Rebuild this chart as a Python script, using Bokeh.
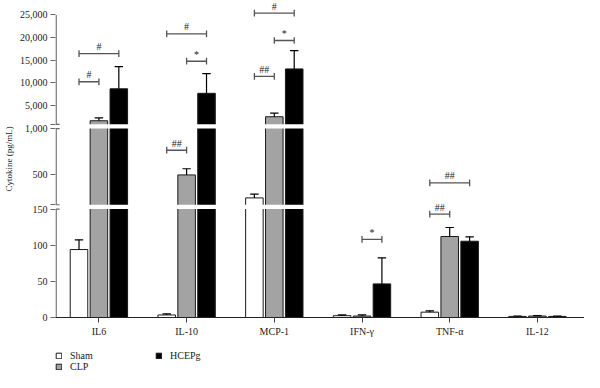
import numpy as np
from bokeh.plotting import figure
from bokeh.layouts import column
from bokeh.models import ColumnDataSource, FixedTicker, Legend, LegendItem, Range1d
from bokeh.embed import file_html
from bokeh.resources import INLINE
from bokeh.core.properties import value

# ---------------- data ----------------
cytokines = ["IL6", "IL-10", "MCP-1", "IFN-γ", "TNF-α", "IL-12"]
groups = ["Sham", "CLP", "HCEPg"]
sham_mean = [94, 3.5, 240, 2.5, 7.4, 1.5]
sham_err = [13.5, 1.5, 42, 1.0, 1.9, 0.6]
clp_mean = [1605, 492, 2490, 2.0, 112, 2.0]
clp_err = [635, 68, 790, 1.5, 12.5, 0.6]
hcepg_mean = [8670, 7670, 13060, 46.5, 105.5, 1.5]
hcepg_err = [4880, 4330, 4030, 36, 6, 0.6]

# broken y axis: value ranges of the three segments
seg_bottom = (0, 150)
seg_mid = (165, 1000)
seg_top = (820, 25000)
tick_values = [0, 50, 100, 150, 500, 1000, 5000, 10000, 15000, 20000, 25000]
tick_labels = ["0", "50", "100", "150", "500", "1,000", "5,000", "10,000",
               "15,000", "20,000", "25,000"]

# significance brackets
brk_cat = [0, 0, 1, 1, 1, 2, 2, 2, 3, 4, 4]
brk_from = [0, 0, 0, 0, 1, 0, 0, 1, 1, 0, 0]
brk_to = [1, 2, 1, 2, 2, 1, 2, 2, 2, 1, 2]
brk_val = [10220, 16450, 763, 20820, 14760, 11425, 25400, 19340, 108, 143, 405]
brk_lab = ["#", "#", "##", "#", "*", "##", "#", "*", "*", "##", "##"]

# ---------------- layout / style ----------------
FONT = "Liberation Serif"
PX_B = (0.0, 113.0)
PX_M = (117.5, 196.8)
PX_T = (201.3, 315.3)
STEP = 0.227
BAR_W = 0.2
CAP = 0.048
CAPH = 3.5
XS, XE = -0.495, 5.537
fills = ["#ffffff", "#a3a3a3", "#000000"]
OUTLINE = "#1a1a1a"


def lin(v, seg, px):
    return px[0] + (v - seg[0]) / (seg[1] - seg[0]) * (px[1] - px[0])


def ymap(v):
    if v <= seg_bottom[1]:
        return lin(v, seg_bottom, PX_B)
    if v <= seg_mid[1]:
        return lin(v, seg_mid, PX_M)
    return lin(v, seg_top, PX_T)


p = figure(width=584, height=339, output_backend="svg", toolbar_location=None,
           x_range=Range1d(XS, XE), y_range=Range1d(0, 330.3),
           min_border_left=50, min_border_right=0, min_border_top=0,
           min_border_bottom=22)
p.outline_line_color = None
p.xgrid.visible = False
p.ygrid.visible = False

means = [sham_mean, clp_mean, hcepg_mean]
errs = [sham_err, clp_err, hcepg_err]
for gi in range(3):
    xs = [i + (gi - 1) * STEP for i in range(len(cytokines))]
    tops = [ymap(m) for m in means[gi]]
    etops = [ymap(m + e) for m, e in zip(means[gi], errs[gi])]
    src = ColumnDataSource(dict(x=xs, top=tops, etop=etops,
                                xl=[x - CAP for x in xs], xr=[x + CAP for x in xs]))
    p.vbar(x="x", top="top", bottom=0, width=BAR_W, source=src,
           fill_color=fills[gi], line_color=OUTLINE, line_width=1)
    p.segment(x0="x", y0="top", x1="x", y1="etop", source=src,
              line_color="black", line_width=1.2)
    p.segment(x0="xl", y0="etop", x1="xr", y1="etop", source=src,
              line_color="black", line_width=1.2)

# white bands for axis breaks
p.quad(left=[XS, XS], right=[XE, XE], bottom=[PX_B[1], PX_M[1]],
       top=[PX_M[0], PX_T[0]], fill_color="white", line_color=None)

# y axis line segments
xa = XS + 0.007
p.segment(x0=[xa] * 3, x1=[xa] * 3, y0=[PX_B[0], PX_M[0], PX_T[0]],
          y1=[PX_B[1], PX_M[1], PX_T[1]], line_color="#666666", line_width=1.3)
p.segment(x0=[xa] * 4, x1=[xa + 0.04] * 4, y0=[PX_B[1], PX_M[0], PX_M[1], PX_T[0]],
          y1=[PX_B[1], PX_M[0], PX_M[1], PX_T[0]], line_color="#666666", line_width=1.2)

# significance brackets
bx0 = [c + (g - 1) * STEP for c, g in zip(brk_cat, brk_from)]
bx1 = [c + (g - 1) * STEP for c, g in zip(brk_cat, brk_to)]
by = [ymap(v) for v in brk_val]
bsrc = ColumnDataSource(dict(x0=bx0, x1=bx1, y=by, ylo=[y - CAPH for y in by],
                             yhi=[y + CAPH for y in by],
                             xm=[(a + b) / 2 for a, b in zip(bx0, bx1)],
                             yt=[y + 1.5 for y in by], lab=brk_lab))
p.segment(x0="x0", y0="y", x1="x1", y1="y", source=bsrc, line_color="#555555", line_width=1.3)
p.segment(x0="x0", y0="ylo", x1="x0", y1="yhi", source=bsrc, line_color="#555555", line_width=1.3)
p.segment(x0="x1", y0="ylo", x1="x1", y1="yhi", source=bsrc, line_color="#555555", line_width=1.3)
p.text(x="xm", y="yt", text="lab", source=bsrc, text_align="center",
       text_baseline="bottom", text_font=value(FONT), text_font_size="10px",
       text_color="#222222")

# y axis ticks
tick_pos = [round(ymap(v), 3) for v in tick_values]
extra = [round(PX_M[0], 3), round(PX_T[0], 3)]
p.yaxis.ticker = FixedTicker(ticks=tick_pos + extra)
ov = {tp: lab for tp, lab in zip(tick_pos, tick_labels)}
for e in extra:
    ov[e] = ""
p.yaxis.major_label_overrides = ov
p.yaxis.axis_line_color = None
p.yaxis.major_tick_line_color = "#666666"
p.yaxis.major_tick_line_width = 1.2
p.yaxis.major_tick_out = 5
p.yaxis.major_tick_in = 0
p.yaxis.minor_tick_line_color = None
p.yaxis.major_label_standoff = 3
p.yaxis.major_label_text_font = FONT
p.yaxis.major_label_text_font_size = "10px"
p.yaxis.major_label_text_color = "#222222"
p.yaxis.axis_label = "Cytokine (pg/mL)"
p.yaxis.axis_label_text_font = FONT
p.yaxis.axis_label_text_font_size = "9px"
p.yaxis.axis_label_text_font_style = "normal"
p.yaxis.axis_label_text_color = "#222222"
p.yaxis.axis_label_standoff = 3

# x axis
p.xaxis.ticker = FixedTicker(ticks=list(range(len(cytokines))))
p.xaxis.major_label_overrides = {i: c for i, c in enumerate(cytokines)}
p.xaxis.axis_line_color = "#222222"
p.xaxis.axis_line_width = 1.2
p.xaxis.major_tick_line_color = "#444444"
p.xaxis.major_tick_out = 5
p.xaxis.major_tick_in = 0
p.xaxis.minor_tick_line_color = None
p.xaxis.major_label_standoff = 3
p.xaxis.major_label_text_font = FONT
p.xaxis.major_label_text_font_size = "10px"
p.xaxis.major_label_text_color = "#222222"

# legend in its own strip below the chart (swatches drawn outside the strip's view)
lf = figure(width=584, height=33, output_backend="svg", toolbar_location=None,
            x_axis_type=None, y_axis_type=None, x_range=Range1d(0, 1),
            y_range=Range1d(0, 1), min_border_left=0, min_border_right=0,
            min_border_top=0, min_border_bottom=0)
lf.outline_line_color = None
lf.xgrid.visible = False
lf.ygrid.visible = False
lrs = [lf.vbar(x=[-5], top=[-5], bottom=[-6], width=0.1, fill_color=fills[gi],
               line_color=OUTLINE, line_width=1) for gi in range(3)]
legend = Legend(items=[LegendItem(label=g, renderers=[r]) for g, r in zip(groups, lrs)],
                orientation="vertical", nrows=2, location=(0, 0),
                label_text_font=FONT, label_text_font_size="10px",
                label_text_color="#222222",
                glyph_width=7, glyph_height=7, label_standoff=8, label_width=85,
                label_height=10, spacing=0, padding=0, margin=0,
                border_line_color=None, background_fill_alpha=0)
lf.add_layout(legend)

layout = column(p, lf, spacing=0)
open("out.html", "w").write(file_html(layout, INLINE))
